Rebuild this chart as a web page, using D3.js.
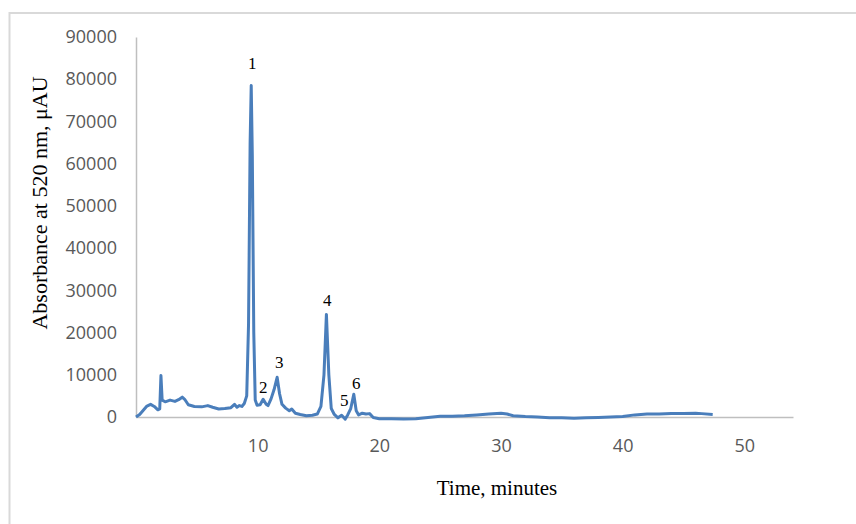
<!DOCTYPE html>
<html lang="en">
<head>
    <meta charset="UTF-8">
    <title>Chromatogram at 520 nm</title>
    <style>
        body { margin: 0; background: #fff; }
        .tick text { font: 18px "Open Sans", sans-serif; fill: #595959; }
        .axis-label { font: 21px "Liberation Serif", "Times New Roman", serif; fill: #000; }
        .y-label { font-size: 22px; }
        .peak-label { font: 17px "Liberation Serif", "Times New Roman", serif; fill: #000; }
    </style>
</head>
<body>
    <div id="chart"></div>
    <script src="https://d3js.org/d3.v7.min.js"></script>
    <script>
        // retention time (min) and absorbance (µAU)
        const time = [
            0, 0.3, 0.6, 0.9, 1.2, 1.5, 1.8, 1.95, 2.05, 2.15, 2.4, 2.8, 3.2, 3.5, 3.8, 4.0, 4.3, 4.8, 5.4, 5.9,
            6.3, 6.8, 7.3, 7.8, 8.1, 8.3, 8.5, 8.7, 8.9, 9.1, 9.25, 9.38, 9.47, 9.56, 9.68, 9.8, 9.95, 10.2, 10.45, 10.7,
            10.85, 11.1, 11.35, 11.6, 11.8, 12.0, 12.3, 12.6, 12.8, 13.1, 13.5, 14.0, 14.5, 14.9, 15.2, 15.45, 15.65, 15.85, 16.05, 16.3,
            16.6, 16.9, 17.2, 17.4, 17.65, 17.9, 18.1, 18.3, 18.6, 18.9, 19.2, 19.5, 20, 21, 22, 23, 24, 25, 26, 27,
            28, 29, 30, 30.5, 31, 32, 33, 34, 35, 36, 37, 38, 39, 40, 41, 42, 43, 44, 45, 46,
            46.5, 47.4
        ];
        const absorbance = [
            0, 600, 1600, 2600, 3000, 2500, 1700, 1900, 9800, 4000, 3600, 4000, 3700, 4100, 4700, 4200, 2900, 2500, 2400, 2700,
            2300, 1900, 2000, 2200, 3000, 2300, 2700, 2500, 3200, 5000, 22000, 65000, 78500, 62000, 20000, 4000, 2800, 2900, 4200, 3000,
            2700, 4300, 6500, 9400, 5500, 3000, 2100, 1500, 1900, 900, 600, 300, 400, 700, 2500, 10000, 24300, 10000, 2000, 600,
            -200, 400, -500, 500, 2000, 5400, 1500, 500, 900, 700, 800, -100, -400, -400, -500, -400, -100, 200, 200, 300,
            500, 700, 900, 700, 300, 100, 0, -200, -200, -300, -200, -100, 0, 100, 500, 700, 700, 800, 800, 900,
            800, 600
        ];

        // peak numbers and where they sit (time, absorbance)
        const peakNames = ["1", "2", "3", "4", "5", "6"];
        const peakTime = [9.55, 10.45, 11.77, 15.72, 17.12, 18.1];
        const peakValue = [83800, 6900, 12800, 27500, 4000, 8050];

        const xTicks = [10, 20, 30, 40, 50];
        const yTicks = [0, 10000, 20000, 30000, 40000, 50000, 60000, 70000, 80000, 90000];

        const W = 856, H = 524;
        const margin = { top: 37, right: 63, bottom: 107, left: 136 };

        const svg = d3.select("#chart")
            .append("svg")
            .attr("width", W)
            .attr("height", H);

        // outer chart border (runs off the right and bottom edges)
        svg.append("rect")
            .attr("x", 9.5)
            .attr("y", 13)
            .attr("width", W)
            .attr("height", H)
            .attr("fill", "#fff")
            .attr("stroke", "#d9d9d9")
            .attr("stroke-width", 2);

        const x = d3.scaleLinear()
            .domain([0, 54])
            .range([margin.left, W - margin.right]);

        const y = d3.scaleLinear()
            .domain([0, 90000])
            .range([H - margin.bottom, margin.top]);

        const yAxis = svg.append("g")
            .attr("transform", `translate(${margin.left},0)`)
            .call(d3.axisLeft(y).tickValues(yTicks).tickSize(0).tickPadding(19).tickFormat(d3.format("d")));

        const xAxis = svg.append("g")
            .attr("transform", `translate(0,${H - margin.bottom})`)
            .call(d3.axisBottom(x).tickValues(xTicks).tickSize(0).tickPadding(22));

        [xAxis, yAxis].forEach(g => {
            g.attr("font-size", null).attr("font-family", null);
            g.select(".domain").attr("stroke", "#bfbfbf").attr("stroke-width", 1.5);
        });

        const pts = time.map((t, i) => ({ t: t, v: absorbance[i] }));

        const line = d3.line()
            .x(d => x(d.t))
            .y(d => y(d.v));

        svg.append("path")
            .datum(pts)
            .attr("fill", "none")
            .attr("stroke", "#4a7ebb")
            .attr("stroke-width", 3)
            .attr("stroke-linejoin", "round")
            .attr("d", line);

        svg.selectAll("text.peak-label")
            .data(peakNames)
            .enter()
            .append("text")
            .attr("class", "peak-label")
            .attr("x", (d, i) => x(peakTime[i]))
            .attr("y", (d, i) => y(peakValue[i]))
            .attr("text-anchor", "middle")
            .attr("dominant-baseline", "central")
            .text(d => d);

        svg.append("text")
            .attr("class", "axis-label")
            .attr("text-anchor", "middle")
            .attr("x", 497)
            .attr("y", 495)
            .text("Time, minutes");

        svg.append("text")
            .attr("class", "axis-label y-label")
            .attr("text-anchor", "middle")
            .attr("transform", "translate(47,203) rotate(-90)")
            .text("Absorbance at 520 nm, \u03bcAU");
    </script>
</body>
</html>
